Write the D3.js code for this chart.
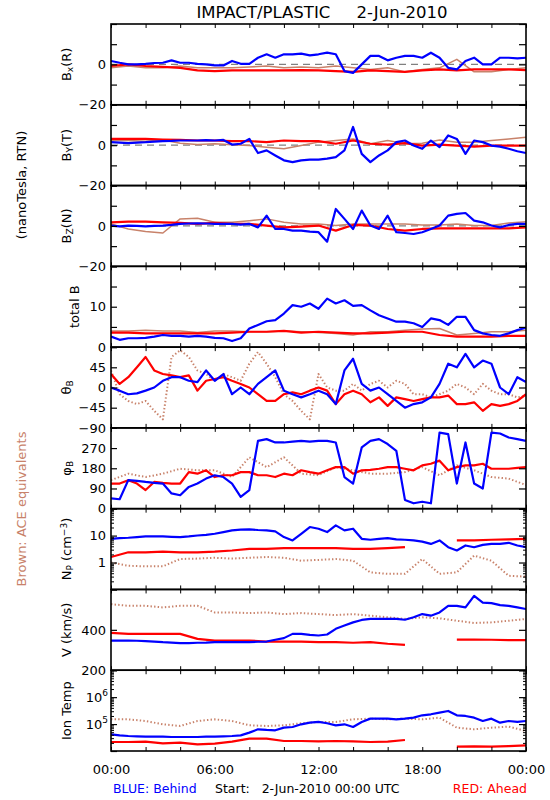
<!DOCTYPE html>
<html><head><meta charset="utf-8">
<script src="https://cdn.jsdelivr.net/npm/d3@7"></script>
<style>
body{margin:0;background:#fff}
svg{display:block}
text{font-family:"DejaVu Sans",sans-serif;fill:#000}
</style>
</head><body><svg id="c" width="550" height="800"></svg>
<script>
// ---- time grids (hours after 2-Jun-2010 00:00 UTC) ----
const hourly = [0,1,2,3,4,5,6,7,8,9,10,11,12,13,14,15,16,17,18,19,20,21,22,23,24];
const halfHourly = [0,0.5,1,1.5,2,2.5,3,3.5,4,4.5,5,5.5,6,6.5,7,7.5,8,8.5,9,9.5,10,10.5,11,11.5,12,12.5,13,13.5,14,14.5,15,15.5,16,16.5,17,17.5,18,18.5,19,19.5,20,20.5,21,21.5,22,22.5,23,23.5,24];

// ---- Bx (R), nT ----
const bxBehind = [1.7,0.8,0,0,0.3,0.7,0.8,2,0.8,0.8,0.3,0,-0.5,-0.5,1.7,0.3,0.3,3.3,5,3.3,5,5,5.3,4.5,5,5.8,5,-3.3,-4.2,0,4.2,4.2,2,3.3,4.2,4.2,3.3,5.8,3.3,-1.7,-2.5,1.7,3.3,0,0,3.3,3.3,3,3.3];
const bxAhead = [-0.8,0,-0.8,-1.2,-1.7,-3,-3.3,-3,-3,-3,-3,-2.8,-3,-3.3,-3.7,-3,-3.3,-3.7,-3,-2.5,-3,-2.5,-2.5,-2.5,-2.8];
const bxACE = [-1.7,-0.8,-1.7,-1.7,-0.8,-1.7,-1.7,-1.7,-1.3,-0.8,-1.7,-1.3,-1.7,-0.8,-1.7,-2.5,-1.7,-3.7,-2.5,-1.7,2.5,-3.7,-3.7,-2.5,-1.7];
// ---- By (T), nT ----
const byBehind = [1.5,1.3,1,1.3,1.5,1.8,2,2.1,2.3,2.3,2.3,2.5,2.3,2.6,0.3,0.7,3.1,-3.9,-2.6,-5.1,-7.5,-8.4,-7.5,-7.2,-7.2,-6.7,-5.9,-2.6,9,-4.3,-8.4,-5.1,-2.6,1.5,2.3,-0.2,-1.8,2.3,-1,4.8,3.1,-4.3,2.3,1.5,-0.2,-0.7,-1.8,-3,-3.9];
const byAhead = [3.1,3.1,3.1,2.8,2.6,2.3,2.3,2,2,1.5,2.3,2,2,0.7,2.3,0.7,0.3,1,-0.2,0.3,-0.2,-0.7,-0.2,-0.2,-0.2];
const byACE = [2.3,2.3,2,2.6,1,0.3,0.7,0.2,-0.2,-1,-1.8,-0.2,1.5,2.3,3.1,0.7,2.3,0.7,1,2.6,1.5,1.5,2.3,3.1,3.9];
// ---- Bz (N), nT ----
const bzBehind = [0.2,-0.2,0.2,0,-0.2,0,0.2,0.5,1,1.2,1.3,1.2,1,1,1,0.7,1,-0.7,5.1,-1.5,-1.5,-2.3,-2.3,-2.8,-3.1,-7.8,8.4,3.5,-1.5,7.6,0.2,-1.5,5.1,-3.1,-3.5,-4,-3.1,-1.5,0.2,5.1,6,6.4,2.6,1.8,0.2,-0.7,0.5,1,1];
const bzAhead = [1.8,2.1,2.1,1.8,1.5,1,1.5,1,1,0.2,-0.7,-0.3,0.2,-2.3,0.5,0.2,-1.5,-2.3,-1.5,-1.2,-1.2,-1.2,-1.2,-1.2,-0.7];
const bzACE = [1,-1.5,-2.8,-3.5,3.5,3.8,1.8,1.8,2.6,3.5,1.8,1,1,0.2,1,1,1,1,0.5,0.5,1,0.2,0.2,1.5,2.1];
// ---- total B, nT ----
const btBehind = [2.6,1.8,2.2,2.2,2.3,2.6,3,2.8,2.8,2.6,2.8,2.6,2.3,2.2,1.5,2.2,4.6,5.5,6.4,6.7,8.3,10.4,10,10.8,9.5,12,10.8,11.6,10.2,10.4,9.1,7.9,7.1,6.3,6.3,5.9,5,7.1,6.7,5.5,7.5,7.5,4.2,3.4,3,2.8,3.4,4.2,4.8];
const btAhead = [3.6,3.6,3.4,3.4,3.4,3.4,3.4,3.6,3.8,3.8,4,3.6,3.8,3.6,3.4,3.4,3.6,3.8,3.8,3,2.6,2.6,2.6,2.8,2.8];
const btACE = [4,4,4.2,4,4,3.6,4,4,3.8,3.8,4,3.8,3.6,3.4,3,3.8,3.8,4.2,4.5,4.6,3,3.4,3.8,3.8,4.2];
// ---- theta_B, deg ----
const thBehind = [0,-7,-15,-13,-7,0,15,23,23,15,12,38,15,30,-15,0,-15,8,23,38,-7,-15,-22,-15,-7,-15,-37,38,64,8,-7,0,-15,-30,-45,-37,-33,-22,8,53,45,75,45,60,53,0,-15,23,12];
const thAhead = [30,8,23,45,68,38,30,27,23,27,-7,15,19,23,15,8,0,-15,-30,-30,-15,-11,-15,-7,0,-7,-37,-15,-7,-15,-33,-22,-41,-22,-26,-30,-26,-22,-22,-18,-37,-37,-33,-52,-37,-41,-37,-30,-15];
const thACE = [38,-15,-30,-37,-30,-52,-71,68,83,68,38,30,15,30,23,15,53,79,53,23,-15,-30,-52,-71,30,0,-7,-7,8,-7,8,15,0,15,8,-15,-15,-22,-15,-7,8,0,-15,8,-7,-15,-15,-22,-18];
// ---- phi_B, deg ----
const phBehind = [46,42,127,124,119,115,112,68,60,97,112,134,149,141,112,53,83,302,310,295,295,299,302,299,302,302,295,141,112,273,302,310,288,258,39,24,31,24,339,332,112,295,112,90,339,335,317,310,302];
const phAhead = [112,112,127,112,83,119,115,112,112,163,156,171,141,149,149,163,163,149,149,141,156,149,171,163,156,171,185,185,156,171,173,178,185,185,178,171,193,200,214,171,185,193,193,200,178,178,178,182,185];
const phACE = [127,156,141,156,178,171,171,141,229,185,229,156,149,185,171,156,156,163,185,149,193,171,141,134,105];
// ---- Np, cm^-3 ----
const npBehind = [7.6,8.1,8.3,8.8,9.3,9.3,9.3,9.0,8.8,9.3,10.1,10.7,11.7,13.5,15.6,16.6,17.0,16.1,15.6,14.3,8.8,6.6,11.7,20.8,18.0,13.5,24.0,15.6,18.0,7.6,7.0,7.6,8.1,7.2,7.0,6.6,6.0,4.9,6.6,3.7,2.8,4.3,3.7,4.5,4.9,4.9,5.4,4.3,3.7];
const npAhead = [1.6,2.4,2.4,2.55,2.4,2.4,2.55,2.8,3.2,3.2,3.4,3.4,3.4,3.4,3.2,3.2,3.4,3.7,null,null,6.6,6.6,7.0,7.2,7.6];
const npACE = [1.0,0.76,0.72,0.72,1.35,1.4,1.5,1.4,1.5,1.6,1.5,1.17,1.25,1.35,1.17,0.43,0.38,0.38,1.35,0.38,0.43,1.8,1.17,0.32,0.3];
// ---- V, km/s ----
const vBehind = [347,347,347,346,344,342,339,337,334,334,336,337,339,339,339,339,339,341,342,351,359,380,380,375,372,377,405,421,437,449,454,454,454,454,450,462,478,470,486,519,519,511,568,535,532,522,519,511,503];
const vAhead = [385,380,380,380,380,355,347,347,347,342,342,342,339,339,336,339,331,326,null,null,352,352,351,349,349];
const vACE = [527,519,519,511,519,519,486,486,483,486,478,483,478,473,478,470,462,454,462,457,445,434,437,445,454];
// ---- Ion temperature, K ----
const tBehind = [41700,38200,36100,35100,34100,34100,34100,33100,33100,33100,33100,34100,34100,35100,36100,38200,48100,63900,60400,58600,73700,78000,98000,113000,120000,107000,90000,98000,78000,120000,159000,159000,159000,150000,159000,173000,212000,231000,266000,307000,212000,200000,173000,130000,159000,113000,130000,120000,130000];
const tAhead = [21600,21600,22200,19300,20400,17700,18700,22200,28700,28700,23500,23500,22900,23500,22900,21600,22200,25600,null,null,14500,14900,14500,15300,16200];
const tACE = [150000,150000,130000,98000,85000,130000,150000,130000,90000,85000,90000,107000,120000,120000,150000,159000,150000,159000,150000,173000,73700,63900,73700,80300,55400];

// ---- axis tick labels ----
const xTickLabels = ["00:00","06:00","12:00","18:00","00:00"];
const xMajor = [0,6,12,18,24];
const xMinor = [0,2,4,6,8,10,12,14,16,18,20,22,24];

const BLUE = "#0000ff", RED = "#ff0000", BROWN = "#c8826a";

const L = 111, R = 526, TOP = 24, BOT = 751;
const PH = (BOT - TOP) / 9;
const svg = d3.select("#c");
const x = d3.scaleLinear([0, 24], [L, R]);

function logMinor(lo, hi) {
  const out = [];
  for (let e = Math.floor(Math.log10(lo)); e < Math.ceil(Math.log10(hi)); e++)
    for (let m = 2; m <= 9; m++) { const v = m * Math.pow(10, e); if (v > lo && v < hi) out.push(v); }
  return out;
}

const panels = [
  {type:"lin", domain:[-20,20], ticks:[-20,-10,0,10,20], labels:{"-20":"−20","0":"0"}, zero:true, dotted:false,
   series:[[hourly,bxACE,BROWN],[hourly,bxAhead,RED],[halfHourly,bxBehind,BLUE]],
   ylab:{x:71, parts:[["B"],["x","sub"],["(R)"]]}},
  {type:"lin", domain:[-20,20], ticks:[-20,-10,0,10,20], labels:{"-20":"−20","0":"0"}, zero:true, dotted:false,
   series:[[hourly,byACE,BROWN],[hourly,byAhead,RED],[halfHourly,byBehind,BLUE]],
   ylab:{x:71, parts:[["B"],["Y","sub"],["(T)"]]}},
  {type:"lin", domain:[-20,20], ticks:[-20,-10,0,10,20], labels:{"-20":"−20","0":"0"}, zero:true, dotted:false,
   series:[[hourly,bzACE,BROWN],[hourly,bzAhead,RED],[halfHourly,bzBehind,BLUE]],
   ylab:{x:71, parts:[["B"],["Z","sub"],["(N)"]]}},
  {type:"lin", domain:[0,20], ticks:[0,5,10,15,20], labels:{"0":"0","10":"10"}, dotted:false,
   series:[[hourly,btACE,BROWN],[hourly,btAhead,RED],[halfHourly,btBehind,BLUE]],
   ylab:{x:79, parts:[["total B"]]}},
  {type:"lin", domain:[-90,90], ticks:[-90,-45,0,45,90], labels:{"-90":"−90","-45":"−45","0":"0","45":"45"}, dotted:true,
   series:[[halfHourly,thACE,BROWN],[halfHourly,thAhead,RED],[halfHourly,thBehind,BLUE]],
   ylab:{x:71, parts:[["θ"],["B","sub"]]}},
  {type:"lin", domain:[0,360], ticks:[0,90,180,270,360], labels:{"0":"0","90":"90","180":"180","270":"270"}, dotted:true,
   series:[[hourly,phACE,BROWN],[halfHourly,phAhead,RED],[halfHourly,phBehind,BLUE]],
   ylab:{x:71, parts:[["φ"],["B","sub"]]}},
  {type:"log", domain:[0.1,100], ticks:[0.1,1,10,100], labels:{"1":"1","10":"10"}, dotted:true,
   series:[[hourly,npACE,BROWN],[hourly,npAhead,RED],[halfHourly,npBehind,BLUE]],
   ylab:{x:71, parts:[["N"],["P","sub"],[" (cm"],["−3","super"],[")"]]}},
  {type:"lin", domain:[200,600], ticks:[200,400,600], labels:{"200":"200","400":"400"}, dotted:true,
   series:[[hourly,vACE,BROWN],[hourly,vAhead,RED],[halfHourly,vBehind,BLUE]],
   ylab:{x:71, parts:[["V (km/s)"]]}},
  {type:"log", domain:[1e4,1e7], ticks:[1e4,1e5,1e6,1e7], labels:{"100000":["10","5"],"1000000":["10","6"]}, dotted:true,
   series:[[hourly,tACE,BROWN],[hourly,tAhead,RED],[halfHourly,tBehind,BLUE]],
   ylab:{x:71, parts:[["Ion Temp"]]}}
];

panels.forEach((p, i) => {
  const top = TOP + i * PH, bot = top + PH;
  const y = (p.type === "log" ? d3.scaleLog() : d3.scaleLinear()).domain(p.domain).range([bot, top]);
  const cid = "clip" + i;
  svg.append("clipPath").attr("id", cid).append("rect")
    .attr("x", L).attr("y", top).attr("width", R - L).attr("height", PH);
  const plot = svg.append("g").attr("clip-path", `url(#${cid})`);
  if (p.zero) {
    plot.append("line").attr("x1", L).attr("x2", R).attr("y1", y(0)).attr("y2", y(0))
      .attr("stroke", "#808080").attr("stroke-width", 1.3).attr("stroke-dasharray", "7,5");
  }
  p.series.forEach(([t, v, c]) => {
    const data = t.map((tt, j) => [tt, v[j]]);
    const line = d3.line().defined(d => d[1] != null).x(d => x(d[0])).y(d => y(d[1]));
    const isBrown = c === BROWN;
    plot.append("path").datum(data).attr("d", line).attr("fill", "none")
      .attr("stroke", c)
      .attr("stroke-width", isBrown ? (p.dotted ? 2 : 1.5) : 2.2)
      .attr("stroke-linejoin", "round")
      .attr("stroke-dasharray", isBrown && p.dotted ? "1.4,2.2" : null);
  });

  // y axes (ticks pointing inward)
  const fmt = v => { const l = p.labels[String(v)]; return l === undefined ? "" : (Array.isArray(l) ? l[0] : l); };
  const gl = svg.append("g").attr("transform", `translate(${L},0)`)
    .call(d3.axisLeft(y).tickValues(p.ticks).tickSize(-6).tickPadding(5).tickFormat(fmt));
  gl.select(".domain").remove();
  gl.selectAll("text").attr("font-size", 13).attr("font-family", "DejaVu Sans").attr("fill", "#000");
  gl.selectAll(".tick").each(function(d) {
    const l = p.labels[String(d)];
    if (Array.isArray(l)) {
      const tx = d3.select(this).select("text");
      tx.text(l[0]);
      tx.append("tspan").attr("font-size", 9).attr("dy", -6).text(l[1]);
      tx.attr("dx", 2);
    }
  });
  gl.selectAll(".tick line").attr("stroke-width", 1.2);
  const gr = svg.append("g").attr("transform", `translate(${R},0)`)
    .call(d3.axisRight(y).tickValues(p.ticks).tickSize(-7).tickFormat(""));
  gr.select(".domain").remove();
  gr.selectAll(".tick line").attr("stroke-width", 1.2);
  if (p.type === "log") {
    const minor = logMinor(p.domain[0], p.domain[1]);
    const ml = svg.append("g").attr("transform", `translate(${L},0)`)
      .call(d3.axisLeft(y).tickValues(minor).tickSize(-3).tickFormat(""));
    ml.select(".domain").remove();
    const mr = svg.append("g").attr("transform", `translate(${R},0)`)
      .call(d3.axisRight(y).tickValues(minor).tickSize(-3).tickFormat(""));
    mr.select(".domain").remove();
  }

  // x axes at top and bottom of each panel
  const gt = svg.append("g").attr("transform", `translate(0,${top})`)
    .call(d3.axisTop(x).tickValues(xMinor).tickSize(-4).tickFormat(""));
  gt.select(".domain").remove();
  const last = i === panels.length - 1;
  const gb = svg.append("g").attr("transform", `translate(0,${bot})`)
    .call(d3.axisBottom(x).tickValues(xMinor).tickSize(-4).tickPadding(14)
      .tickFormat(d => last && xMajor.includes(d) ? xTickLabels[xMajor.indexOf(d)] : ""));
  gb.select(".domain").remove();
  gb.selectAll("text").attr("font-size", 13).attr("font-family", "DejaVu Sans").attr("fill", "#000");

  // frame
  svg.append("rect").attr("x", L).attr("y", top).attr("width", R - L).attr("height", PH)
    .attr("fill", "none").attr("stroke", "#000").attr("stroke-width", 1.6);

  // rotated y label
  const cy = (top + bot) / 2;
  const tl = svg.append("text").attr("transform", `translate(${p.ylab.x},${cy}) rotate(-90)`)
    .attr("text-anchor", "middle").attr("font-size", 13);
  p.ylab.parts.forEach(([s, mode]) => {
    const ts = tl.append("tspan").text(s);
    if (mode === "sub") ts.attr("baseline-shift", "-25%").attr("font-size", 9);
    if (mode === "super") ts.attr("baseline-shift", "45%").attr("font-size", 9);
  });
});

// title
svg.append("text").attr("x", 322).attr("y", 18).attr("text-anchor", "middle")
  .attr("font-size", 16.5).style("white-space", "pre").text("IMPACT/PLASTIC     2-Jun-2010");

// side labels
svg.append("text").attr("transform", `translate(26,${185}) rotate(-90)`).attr("text-anchor", "middle")
  .attr("font-size", 13).text("(nanoTesla, RTN)");
svg.append("text").attr("transform", `translate(26,${509}) rotate(-90)`).attr("text-anchor", "middle")
  .attr("font-size", 13).style("fill", BROWN).text("Brown: ACE equivalents");

// footer
svg.append("text").attr("x", 113).attr("y", 793).attr("font-size", 12.5).style("fill", BLUE).text("BLUE: Behind");
svg.append("text").attr("x", 215).attr("y", 793).attr("font-size", 12.5).style("white-space", "pre")
  .text("Start:   2-Jun-2010 00:00 UTC");
svg.append("text").attr("x", 527).attr("y", 793).attr("text-anchor", "end").attr("font-size", 12.5)
  .style("fill", RED).text("RED: Ahead");
</script>
</body></html>
